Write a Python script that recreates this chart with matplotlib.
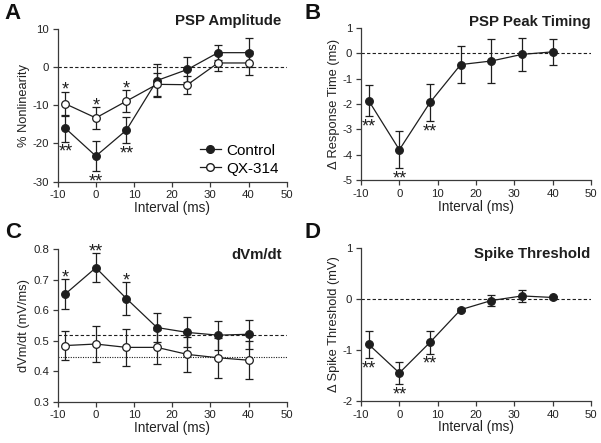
import numpy as np
import matplotlib
matplotlib.use("Agg")
import matplotlib.pyplot as plt
from matplotlib.lines import Line2D

plt.rcParams['font.family'] = ['Liberation Sans', 'DejaVu Sans']
plt.rcParams['axes.unicode_minus'] = False

# intervalli (ms)
interval = [-8, 0, 8, 16, 24, 32, 40]

# A - PSP amplitude (% nonlinearity)
amp_ctrl = [-16.0, -23.3, -16.5, -3.5, -0.6, 3.8, 3.8]
amp_ctrl_err = [3.5, 4.0, 3.5, 4.3, 3.3, 2.0, 3.8]
amp_qx = [-9.6, -13.3, -8.9, -4.5, -4.6, 1.1, 1.1]
amp_qx_err = [3.2, 2.8, 2.9, 3.0, 2.4, 2.0, 3.2]

# B - PSP peak timing (ms)
tim = [-1.87, -3.80, -1.94, -0.45, -0.31, -0.05, 0.05]
tim_err = [0.62, 0.73, 0.72, 0.73, 0.86, 0.64, 0.50]

# C - dVm/dt (mV/ms)
dv_ctrl = [0.653, 0.739, 0.638, 0.543, 0.527, 0.518, 0.521]
dv_ctrl_err = [0.048, 0.047, 0.053, 0.049, 0.049, 0.048, 0.047]
dv_qx = [0.484, 0.489, 0.478, 0.478, 0.455, 0.444, 0.436]
dv_qx_err = [0.048, 0.060, 0.060, 0.056, 0.058, 0.066, 0.063]
dv_ctrl_base = 0.52
dv_qx_base = 0.446

# D - spike threshold (mV)
thr = [-0.89, -1.45, -0.85, -0.21, -0.03, 0.06, 0.03]
thr_err = [0.27, 0.22, 0.22, 0.03, 0.10, 0.12, 0.03]

# significativita' (indice del punto, simbolo)
sig_A_qx = [(0, '*'), (1, '*'), (2, '*')]
sig_A_ctrl = [(0, '**'), (1, '**'), (2, '**')]
sig_B = [(0, '**'), (1, '**'), (2, '**')]
sig_C = [(0, '*'), (1, '**'), (2, '*')]
sig_D = [(0, '**'), (1, '**'), (2, '**')]

dark = '#1e1e1e'
axcol = '#3a3a3a'

fig = plt.figure(figsize=(6.01, 4.43), dpi=100)
axA = fig.add_axes([0.096, 0.590, 0.381, 0.3445])
axB = fig.add_axes([0.6007, 0.593, 0.3827, 0.3445])
axC = fig.add_axes([0.096, 0.0932, 0.381, 0.3445])
axD = fig.add_axes([0.6007, 0.0948, 0.3827, 0.3454])


def style(ax, ylim, yticks, ylabel, labx):
    ax.set_xlim(-10, 50)
    ax.set_xticks(range(-10, 51, 10))
    ax.set_ylim(*ylim)
    ax.set_yticks(yticks)
    for s in ['top', 'right']:
        ax.spines[s].set_visible(False)
    for s in ['left', 'bottom']:
        ax.spines[s].set_color(axcol)
        ax.spines[s].set_linewidth(0.9)
    ax.tick_params(direction='out', length=3.5, width=0.9, color=axcol,
                   labelsize=8.2, labelcolor='#222222', pad=2.8)
    ax.set_xlabel('Interval (ms)', fontsize=9.8, color='#222222', labelpad=0.5)
    ax.set_ylabel(ylabel, fontsize=9.3, color='#222222')
    ax.yaxis.set_label_coords(labx, 0.5)


def series(ax, y, err, filled):
    ax.errorbar(interval, y, yerr=err, color=dark, lw=0.9, elinewidth=0.9,
                capsize=3, capthick=0.9, marker='o', ms=5.5,
                mfc=dark if filled else 'white', mec=dark, mew=0.9, zorder=3)


def stars(ax, y, err, sig, above, fs=13):
    for i, s in sig:
        if above:
            ax.annotate(s, (interval[i], y[i] + err[i]), xytext=(0, 0.8),
                        textcoords='offset points', ha='center', va='center',
                        fontsize=fs, color=dark)
        else:
            ax.annotate(s, (interval[i], y[i] - err[i]), xytext=(0, -7.8),
                        textcoords='offset points', ha='center', va='center',
                        fontsize=fs, color=dark)


# A
style(axA, (-30, 10), [-30, -20, -10, 0, 10], '% Nonlinearity', -0.12)
axA.axhline(0, color=dark, lw=0.8, ls=(0, (3, 2)), zorder=1)
series(axA, amp_ctrl, amp_ctrl_err, True)
series(axA, amp_qx, amp_qx_err, False)
stars(axA, amp_qx, amp_qx_err, sig_A_qx, True)
stars(axA, amp_ctrl, amp_ctrl_err, sig_A_ctrl, False)
axA.text(0.978, 1.05, 'PSP Amplitude', transform=axA.transAxes, ha='right',
         va='center', fontsize=10.8, fontweight='bold', color=dark)
handles = [Line2D([], [], color=dark, lw=0.9, marker='o', ms=5.5, mfc=dark, mec=dark),
           Line2D([], [], color=dark, lw=0.9, marker='o', ms=5.5, mfc='white', mec=dark)]
axA.legend(handles, ['Control', 'QX-314'], loc='lower right', frameon=False,
           fontsize=11, handlelength=1.4, handletextpad=0.3, labelspacing=0.25,
           bbox_to_anchor=(0.99, 0.0), borderaxespad=0)

# B
style(axB, (-5, 1), [-5, -4, -3, -2, -1, 0, 1], '\u0394 Response Time (ms)', -0.09)
axB.axhline(0, color=dark, lw=0.8, ls=(0, (3, 2)), zorder=1)
series(axB, tim, tim_err, True)
stars(axB, tim, tim_err, sig_B, False)
axB.text(1.0, 1.04, 'PSP Peak Timing', transform=axB.transAxes, ha='right',
         va='center', fontsize=10.8, fontweight='bold', color=dark)

# C
style(axC, (0.3, 0.8), [0.3, 0.4, 0.5, 0.6, 0.7, 0.8], 'dVm/dt (mV/ms)', -0.12)
axC.axhline(dv_ctrl_base, color=dark, lw=0.8, ls=(0, (3, 2)), zorder=1)
axC.axhline(dv_qx_base, color=dark, lw=0.8, ls=(0, (1, 1.2)), zorder=1)
series(axC, dv_ctrl, dv_ctrl_err, True)
series(axC, dv_qx, dv_qx_err, False)
stars(axC, dv_ctrl, dv_ctrl_err, sig_C, True)
axC.text(0.978, 0.96, 'dVm/dt', transform=axC.transAxes, ha='right',
         va='center', fontsize=10.8, fontweight='bold', color=dark)

# D
style(axD, (-2, 1), [-2, -1, 0, 1], '\u0394 Spike Threshold (mV)', -0.09)
axD.axhline(0, color=dark, lw=0.8, ls=(0, (3, 2)), zorder=1)
series(axD, thr, thr_err, True)
stars(axD, thr, thr_err, sig_D, False)
axD.text(0.996, 0.96, 'Spike Threshold', transform=axD.transAxes, ha='right',
         va='center', fontsize=10.8, fontweight='bold', color=dark)

# lettere dei pannelli
for lab, (x, y) in zip('ABCD', [(0.008, 0.97), (0.507, 0.97), (0.008, 0.475), (0.507, 0.475)]):
    fig.text(x, y, lab, fontsize=16, fontweight='bold', color='#111111', va='center')

fig.savefig('out.png', dpi=100)
